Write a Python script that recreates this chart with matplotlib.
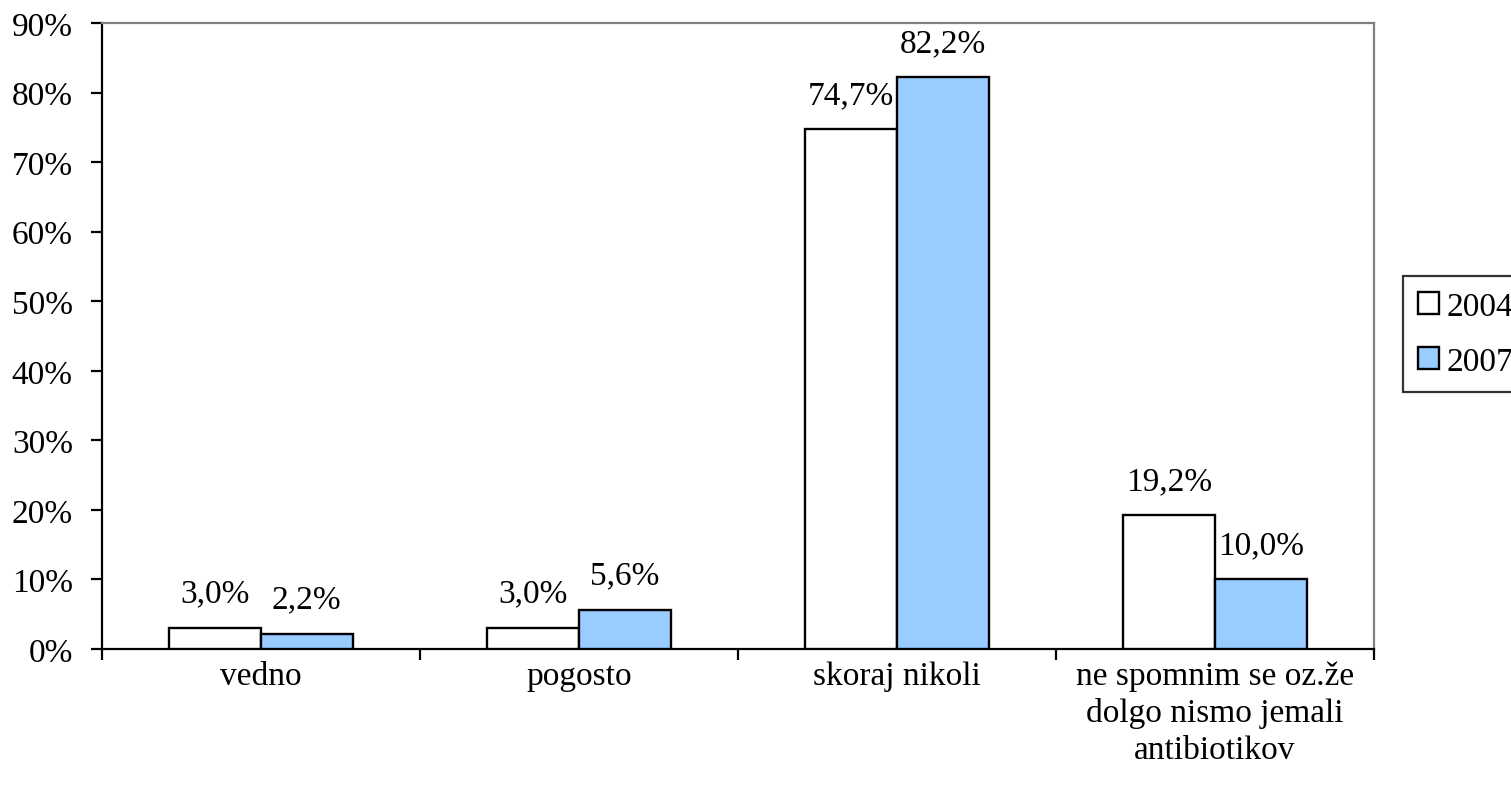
import numpy as np
import matplotlib
matplotlib.use('Agg')
from matplotlib import pyplot as plt
from matplotlib.ticker import FixedLocator, NullFormatter, PercentFormatter

# survey answers, share of respondents per year
categories = ['vedno', 'pogosto', 'skoraj nikoli',
              'ne spomnim se oz.že\ndolgo nismo jemali\nantibiotikov']
years = ['2004', '2007']
values_2004 = [3.0, 3.0, 74.7, 19.2]
values_2007 = [2.2, 5.6, 82.2, 10.0]

plt.rcParams['font.family'] = ['Liberation Serif', 'DejaVu Serif']
fs = 24

fig = plt.figure(figsize=[15.11, 8.12], dpi=100)
ax = fig.add_axes([0.0675, 0.1995, 0.9093 - 0.0675, 0.9704 - 0.1995])

x = np.arange(len(categories))
w = 0.288
bars1 = ax.bar(x - w / 2, values_2004, w, color='white', edgecolor='black',
               linewidth=1.7, label=years[0], zorder=3)
bars2 = ax.bar(x + w / 2, values_2007, w, color='#99CCFF', edgecolor='black',
               linewidth=1.7, label=years[1], zorder=3)

# value labels above each bar
for bars, vals in [(bars1, values_2004), (bars2, values_2007)]:
    for b, v in zip(bars, vals):
        ax.annotate(('%.1f%%' % v).replace('.', ','),
                    (b.get_x() + b.get_width() / 2, v),
                    xytext=(0, 25), textcoords='offset points',
                    ha='center', va='center', fontsize=fs)

ax.set_xlim(-0.5, len(categories) - 0.5)
ax.set_ylim(0, 90)
ax.set_yticks(np.arange(0, 91, 10))
ax.yaxis.set_major_formatter(PercentFormatter(decimals=0))

# ticks between categories, labels under the centres
ax.xaxis.set_major_locator(FixedLocator(np.arange(-0.5, len(categories), 1.0)))
ax.xaxis.set_major_formatter(NullFormatter())
ax.xaxis.set_minor_locator(FixedLocator(x))
ax.set_xticklabels(categories, minor=True, fontsize=fs, linespacing=1.28)
ax.tick_params(axis='x', which='minor', length=0, pad=8)
ax.tick_params(axis='x', which='major', direction='out', length=8, width=1.6)
ax.tick_params(axis='y', direction='out', length=8, width=1.6, pad=13,
               labelsize=fs)

for side in ['left', 'bottom']:
    ax.spines[side].set_color('black')
    ax.spines[side].set_linewidth(1.6)
for side in ['top', 'right']:
    ax.spines[side].set_color('#808080')
    ax.spines[side].set_linewidth(1.6)

# legend box runs off the right edge of the figure
leg = fig.legend(loc='center left', bbox_to_anchor=(1403 / 1511, 1 - 335 / 812),
                 fontsize=fs, frameon=True, fancybox=False, edgecolor='black',
                 handlelength=0.64, handleheight=0.64, handletextpad=0.2,
                 borderpad=0.45, labelspacing=0.75, borderaxespad=0)
leg.get_frame().set_linewidth(1.6)

fig.savefig('out.png', dpi=100)
